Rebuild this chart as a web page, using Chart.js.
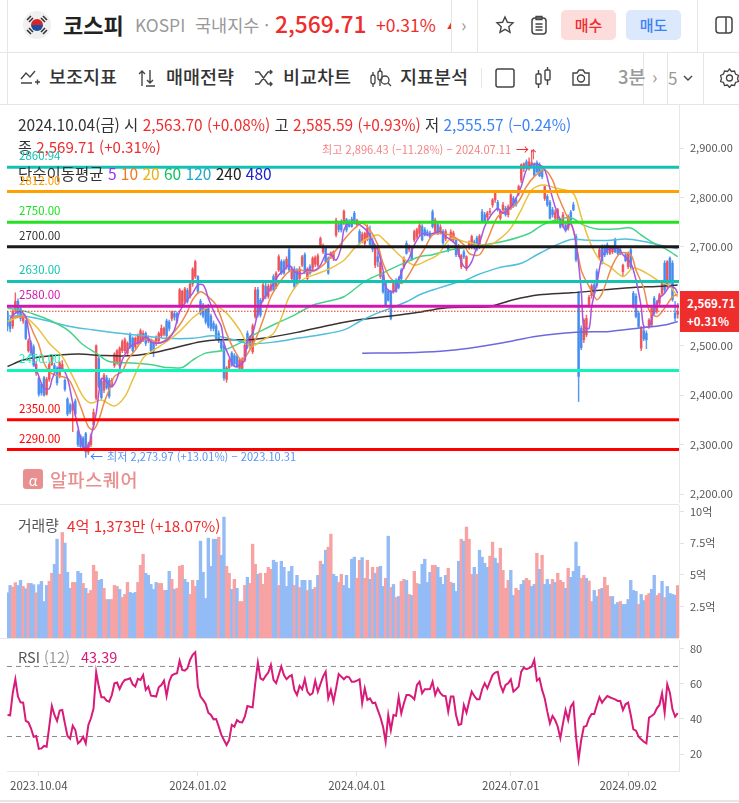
<!DOCTYPE html>
<html lang="ko">
<head>
<meta charset="utf-8">
<title>코스피</title>
<script src="https://cdn.jsdelivr.net/npm/chart.js@4"></script>
<style>
  html, body { margin: 0; padding: 0; background: #fff; }
  body { width: 739px; height: 803px; position: relative; overflow: hidden; font-family: "Noto Sans CJK KR", "Noto Sans", sans-serif; color: #333; }
  canvas { position: absolute; left: 0; display: block; }
  .t { position: absolute; white-space: nowrap; line-height: 1; }
  .line { position: absolute; background: #e6e6e6; }
  .red { color: #ee2d2d; } .blue { color: #3b82f6; } .gray { color: #999; }
  .tool { font-size: 18.5px; font-weight: 500; color: #333; top: 67px; }
  .btn { position: absolute; top: 10px; height: 30px; width: 55px; border-radius: 5px; font-size: 15px; font-weight: 500; text-align: center; line-height: 29px; }
  svg { position: absolute; }
  .level { position: absolute; left: 19px; font-size: 11.5px; line-height: 1; }
</style>
</head>
<body>
<canvas id="priceChart" style="top:105px"></canvas>
<canvas id="volumeChart" style="top:505px"></canvas>
<canvas id="rsiChart" style="top:640px"></canvas>

<!-- top bar -->
<div class="line" style="left:0;top:52px;width:739px;height:1px"></div>
<div class="line" style="left:0;top:104px;width:739px;height:1px"></div>
<div class="line" style="left:7px;top:0;width:1px;height:104px"></div>
<div class="line" style="left:451px;top:0;width:1px;height:52px"></div>
<div class="line" style="left:477px;top:0;width:1px;height:52px"></div>
<div class="line" style="left:697px;top:0;width:1px;height:52px"></div>
<div class="line" style="left:643px;top:53px;width:1px;height:51px"></div>
<div class="line" style="left:667px;top:53px;width:1px;height:51px"></div>
<div class="line" style="left:703px;top:53px;width:1px;height:51px"></div>
<div class="line" style="left:481px;top:68px;width:1px;height:20px"></div>
<div class="line" style="left:0;top:504px;width:679px;height:1px"></div>
<div class="line" style="left:0;top:638px;width:679px;height:1px"></div>
<div class="line" style="left:0;top:800px;width:739px;height:2px"></div>

<svg style="left:23px;top:11px" width="28" height="28" viewBox="0 0 28 28">
  <circle cx="14" cy="14" r="14" fill="#f0f0f0"/>
  <path d="M8 14a6 6 0 0 1 12 0z" fill="#d8232a"/><path d="M8 14a6 6 0 0 0 12 0z" fill="#1a4fa0"/>
  <g stroke="#333" stroke-width="1.6"><path d="M4 9l4-4M6 11l4-4M18 7l4 4M20 5l4 4M4 19l4 4M6 17l4 4M18 21l4-4M20 23l4-4"/></g>
</svg>
<span class="t" style="left:63px;top:13px;font-size:22px;font-weight:700;color:#222">코스피</span>
<span class="t gray" style="left:135px;top:16px;font-size:17.4px">KOSPI</span>
<span class="t gray" style="left:195px;top:16px;font-size:17.5px">국내지수 ·</span>
<span class="t red" style="left:275px;top:13px;font-size:22.8px;font-weight:500">2,569.71</span>
<span class="t red" style="left:376px;top:16px;font-size:17.5px">+0.31%</span>
<span class="t red" style="left:447px;top:20px;font-size:10px;clip-path:inset(0 6px 0 0)">▲</span>
<span class="t gray" style="left:461px;top:15px;font-size:18px">›</span>
<svg style="left:495px;top:15px" width="20" height="20" viewBox="0 0 20 20"><path d="M10 2l2.4 5.3 5.6.6-4.2 3.8 1.2 5.6L10 14.4 5 17.3l1.2-5.6L2 7.9l5.6-.6z" fill="none" stroke="#444" stroke-width="1.4"/></svg>
<svg style="left:530px;top:15px" width="18" height="21" viewBox="0 0 18 21"><rect x="2" y="3" width="14" height="16" rx="3" fill="none" stroke="#444" stroke-width="1.5"/><path d="M6 1.5h6v3H6zM5.5 9h7M5.5 12h7M5.5 15h7" fill="none" stroke="#444" stroke-width="1.3"/></svg>
<div class="btn red" style="left:561px;background:#fddcdc">매수</div>
<div class="btn blue" style="left:626px;background:#dce8fb">매도</div>
<svg style="left:714px;top:15px" width="20" height="20" viewBox="0 0 20 20"><rect x="2" y="2" width="16" height="16" rx="3" fill="none" stroke="#444" stroke-width="1.5"/><path d="M12 2v16" stroke="#444" stroke-width="1.5"/></svg>

<!-- toolbar -->
<svg style="left:20px;top:68px" width="20" height="18" viewBox="0 0 20 18"><path d="M1 11l5-6 4 4 5-6M1 15h11M15 14h5M17.5 11.500v5" fill="none" stroke="#444" stroke-width="1.4"/></svg>
<span class="t tool" style="left:49px">보조지표</span>
<svg style="left:137px;top:68px" width="20" height="20" viewBox="0 0 20 20"><path d="M5 18V3M2 6l3-3 3 3M13 2v13M10 12l3 3 3-3M9 18h9" fill="none" stroke="#444" stroke-width="1.4"/></svg>
<span class="t tool" style="left:166px">매매전략</span>
<svg style="left:254px;top:68px" width="20" height="20" viewBox="0 0 20 20"><path d="M1 4h4l9 12h4M1 16h4l9-12h4M16 2l2 2-2 2M16 14l2 2-2 2" fill="none" stroke="#444" stroke-width="1.4"/></svg>
<span class="t tool" style="left:283px">비교차트</span>
<svg style="left:370px;top:67px" width="22" height="22" viewBox="0 0 22 22"><rect x="1" y="8" width="4" height="9" rx="2" fill="none" stroke="#444" stroke-width="1.3"/><rect x="8" y="4" width="4" height="9" rx="2" fill="none" stroke="#444" stroke-width="1.3"/><circle cx="15" cy="13" r="4" fill="none" stroke="#444" stroke-width="1.3"/><path d="M18 16l3 3M3 5v3M3 17v3M10 1v3M10 13v6" stroke="#444" stroke-width="1.3"/></svg>
<span class="t tool" style="left:400px">지표분석</span>
<svg style="left:495px;top:68px" width="20" height="20" viewBox="0 0 20 20"><rect x="1" y="1" width="18" height="18" rx="2" fill="none" stroke="#444" stroke-width="1.5"/></svg>
<svg style="left:534px;top:66px" width="18" height="24" viewBox="0 0 18 24"><rect x="2" y="8" width="5" height="10" rx="1" fill="none" stroke="#444" stroke-width="1.4"/><rect x="11" y="4" width="5" height="10" rx="1" fill="none" stroke="#444" stroke-width="1.4"/><path d="M4.500 4v4M4.500 18v4M13.500 1v3M13.500 14v5" stroke="#444" stroke-width="1.4"/></svg>
<svg style="left:571px;top:68px" width="20" height="19" viewBox="0 0 20 19"><path d="M2 5h4l2-3h4l2 3h4v12H2z" fill="none" stroke="#444" stroke-width="1.4"/><circle cx="10" cy="10.500" r="3.500" fill="none" stroke="#444" stroke-width="1.4"/></svg>
<span class="t gray" style="left:618px;top:67px;font-size:18.5px;font-weight:500">3분</span>
<span class="t gray" style="left:652px;top:67px;font-size:18px">›</span>
<span class="t gray" style="left:668px;top:69px;font-size:17px">5</span>
<svg style="left:683px;top:75px" width="10" height="7" viewBox="0 0 10 7"><path d="M1 1l4 4 4-4" fill="none" stroke="#444" stroke-width="1.4"/></svg>
<svg style="left:720px;top:68px" width="19" height="20" viewBox="0 0 19 20"><path d="M9.500 1l2 2.500 3-.500 1 3 3 1.500-1 3 1 3-3 1-1 3-3-.500-2 2.500-2-2.500-3 .500-1-3-3-1 1-3-1-3 3-1.500 1-3 3 .500z" fill="none" stroke="#444" stroke-width="1.3"/><circle cx="9.500" cy="10" r="3" fill="none" stroke="#444" stroke-width="1.3"/></svg>

<!-- legend text -->
<span class="t" style="left:18px;top:117px;font-size:15.45px;color:#333">2024.10.04(금) 시 <span class="red">2,563.70 (+0.08%)</span> 고 <span class="red">2,585.59 (+0.93%)</span> 저 <span class="blue">2,555.57 (−0.24%)</span></span>
<span class="t" style="left:18px;top:139px;font-size:15.1px;color:#333">종 <span class="red">2,569.71 (+0.31%)</span></span>
<span class="t" style="left:18px;top:166px;font-size:15.5px;color:#333">단순이동평균 <span style="color:#9333ea">5</span> <span style="color:#f07820">10</span> <span style="color:#e8b010">20</span> <span style="color:#10c060">60</span> <span style="color:#20a8d0">120</span> <span style="color:#222">240</span> <span style="color:#2020d0">480</span></span>
<span class="t" style="left:322px;top:144px;font-size:11.1px;color:#ee2d2d;opacity:.6">최고 2,896.43 (−11.28%) − 2024.07.11</span>
<span class="t" style="left:516px;top:142px;font-size:13px;color:#ee2d2d">→</span>
<span class="t" style="left:528px;top:149px;font-size:11px;color:#ee2d2d">↑</span>
<span class="t" style="left:107px;top:451px;font-size:11.1px;color:#3b82f6;opacity:.85">최저 2,273.97 (+13.01%) − 2023.10.31</span>
<span class="t" style="left:90px;top:449px;font-size:13px;color:#3b82f6">←</span>
<div class="t" style="left:23px;top:469px;width:20px;height:20px;border-radius:3px;background:#e89090;color:#fff;font-size:14px;text-align:center;line-height:22px">α</div>
<span class="t" style="left:50px;top:470px;font-size:18.5px;font-weight:500;letter-spacing:.6px;color:#e88f8f">알파스퀘어</span>

<span class="t" style="left:18px;top:518px;font-size:14.8px;color:#555">거래량</span>
<span class="t red" style="left:67px;top:518px;font-size:15.2px">4억 1,373만 (+18.07%)</span>
<span class="t" style="left:18px;top:650px;font-size:14.5px;color:#555">RSI <span class="gray">(12)</span></span>
<span class="t" style="left:81px;top:650px;font-size:14.5px;color:#d81b78">43.39</span>

<!-- current price tag -->
<div style="position:absolute;left:680px;top:291px;width:59px;height:41px;background:#ee2d2d"></div>
<span class="t" style="left:687px;top:298px;font-size:11.500px;font-weight:700;color:#fff">2,569.71</span>
<span class="t" style="left:687px;top:316px;font-size:11.500px;font-weight:700;color:#fff">+0.31%</span>

<script>
// one candle a day, oldest first: [open, high, low, close]
const CANDLES = [
  [2567,2570,2530,2540],[2550,2555,2528,2535],[2540,2572,2535,2568],[2572,2607,2565,2590],[2590,2595,2560,2565],
  [2575,2580,2550,2555],[2550,2565,2545,2562],[2549,2552,2512,2515],[2490,2514,2487,2510],[2505,2510,2480,2485],
  [2498,2502,2458,2461],[2445,2468,2440,2462],[2434,2436,2398,2402],[2422,2425,2400,2405],[2435,2438,2398,2400],
  [2402,2436,2400,2432],[2432,2466,2428,2462],[2462,2482,2460,2478],[2460,2465,2445,2448],[2452,2458,2420,2425],
  [2440,2468,2435,2465],[2452,2470,2448,2462],[2430,2433,2408,2412],[2392,2395,2358,2362],[2380,2384,2362,2366],
  [2370,2385,2326,2382],[2388,2392,2358,2362],[2326,2330,2296,2300],[2317,2320,2292,2296],[2313,2316,2288,2292],
  [2322,2325,2274,2285],[2285,2305,2280,2300],[2300,2322,2296,2318],[2340,2372,2330,2365],[2394,2502,2390,2500],
  [2474,2478,2415,2418],[2428,2432,2392,2395],[2410,2444,2405,2440],[2435,2440,2412,2415],[2430,2434,2394,2398],
  [2420,2434,2416,2430],[2460,2486,2456,2483],[2465,2492,2462,2490],[2460,2498,2455,2495],[2490,2512,2486,2508],
  [2490,2516,2486,2512],[2485,2508,2482,2505],[2522,2526,2495,2498],[2515,2518,2487,2490],[2498,2518,2494,2515],
  [2505,2524,2502,2520],[2508,2534,2504,2530],[2512,2530,2508,2525],[2525,2528,2500,2505],[2510,2520,2506,2515],
  [2510,2514,2486,2490],[2505,2508,2478,2490],[2505,2520,2500,2515],[2510,2528,2506,2525],[2520,2542,2516,2535],
  [2523,2538,2520,2535],[2550,2554,2516,2520],[2548,2552,2530,2535],[2555,2570,2550,2568],[2565,2570,2552,2558],
  [2565,2568,2545,2550],[2582,2616,2578,2613],[2582,2612,2578,2610],[2590,2618,2586,2615],[2612,2616,2586,2590],
  [2600,2628,2596,2625],[2625,2658,2620,2655],[2640,2673,2636,2670],[2640,2642,2606,2610],[2590,2594,2562,2565],
  [2582,2586,2556,2560],[2578,2582,2544,2548],[2580,2584,2536,2540],[2560,2564,2530,2535],[2545,2550,2530,2535],
  [2540,2544,2512,2515],[2525,2530,2506,2510],[2510,2514,2490,2495],[2500,2504,2430,2435],[2432,2458,2426,2455],
  [2455,2474,2450,2470],[2485,2488,2458,2461],[2480,2484,2460,2464],[2478,2482,2455,2458],[2454,2475,2450,2471],
  [2454,2476,2450,2472],[2471,2505,2468,2501],[2525,2530,2494,2498],[2498,2520,2494,2516],[2488,2544,2484,2540],
  [2559,2618,2555,2613],[2613,2618,2558,2562],[2592,2596,2558,2562],[2593,2628,2590,2623],[2620,2630,2595,2600],
  [2600,2625,2596,2620],[2613,2626,2610,2623],[2640,2644,2610,2613],[2620,2650,2616,2647],[2653,2684,2650,2680],
  [2670,2674,2644,2647],[2670,2674,2644,2647],[2660,2680,2655,2675],[2694,2698,2650,2653],[2636,2660,2632,2655],
  [2655,2660,2616,2620],[2653,2656,2624,2626],[2636,2660,2632,2655],[2663,2683,2660,2680],[2684,2688,2646,2650],
  [2636,2658,2632,2655],[2660,2664,2644,2647],[2657,2680,2654,2677],[2665,2682,2660,2678],[2663,2686,2660,2682],
  [2704,2720,2700,2717],[2690,2706,2686,2700],[2697,2700,2668,2670],[2677,2680,2644,2647],[2680,2690,2676,2688],
  [2677,2692,2672,2690],[2724,2758,2720,2754],[2745,2752,2730,2735],[2751,2755,2730,2734],[2748,2775,2745,2772],
  [2755,2758,2730,2734],[2751,2755,2740,2741],[2756,2760,2740,2741],[2768,2772,2746,2748],[2745,2756,2742,2754],
  [2731,2735,2705,2707],[2712,2730,2708,2725],[2707,2730,2703,2727],[2715,2745,2712,2738],[2727,2742,2700,2705],
  [2712,2718,2690,2695],[2663,2702,2658,2700],[2680,2690,2660,2670],[2640,2672,2636,2668],[2643,2648,2606,2609],
  [2626,2630,2580,2582],[2610,2614,2590,2592],[2609,2612,2552,2555],[2610,2628,2606,2626],[2632,2636,2608,2610],
  [2635,2640,2615,2618],[2653,2656,2632,2635],[2660,2680,2656,2676],[2707,2712,2685,2687],[2695,2704,2690,2700],
  [2694,2698,2672,2674],[2714,2734,2710,2731],[2720,2738,2716,2735],[2727,2748,2722,2744],[2741,2745,2712,2714],
  [2735,2739,2722,2724],[2730,2734,2722,2725],[2728,2732,2718,2720],[2771,2775,2738,2741],[2731,2758,2728,2754],
  [2745,2750,2725,2728],[2730,2745,2726,2740],[2731,2735,2705,2708],[2716,2735,2712,2731],[2700,2704,2690,2693],
  [2715,2735,2712,2730],[2714,2732,2710,2728],[2714,2718,2680,2684],[2685,2705,2680,2700],[2660,2685,2656,2682],
  [2690,2694,2676,2680],[2656,2682,2652,2680],[2700,2712,2695,2708],[2700,2724,2696,2721],[2710,2714,2695,2698],
  [2718,2722,2692,2695],[2700,2725,2696,2722],[2771,2776,2749,2751],[2765,2770,2749,2751],[2760,2772,2755,2768],
  [2770,2778,2765,2771],[2785,2798,2780,2795],[2795,2812,2790,2808],[2790,2794,2772,2775],[2758,2775,2754,2772],
  [2775,2790,2770,2785],[2778,2782,2762,2765],[2765,2785,2760,2781],[2778,2808,2775,2805],[2798,2802,2780,2783],
  [2795,2799,2782,2785],[2808,2825,2804,2822],[2835,2868,2830,2866],[2858,2870,2852,2868],[2872,2876,2858,2862],
  [2858,2880,2855,2872],[2866,2896,2860,2870],[2866,2870,2842,2845],[2870,2874,2850,2852],[2866,2870,2842,2844],
  [2855,2862,2838,2842],[2798,2825,2794,2822],[2802,2806,2782,2785],[2790,2794,2756,2758],[2775,2780,2760,2765],
  [2758,2775,2752,2770],[2755,2778,2750,2775],[2755,2758,2738,2740],[2745,2770,2740,2765],[2744,2748,2730,2734],
  [2738,2765,2734,2761],[2770,2774,2750,2755],[2785,2790,2773,2775],[2721,2726,2670,2674],[2606,2610,2387,2438],
  [2535,2540,2492,2496],[2512,2555,2506,2552],[2522,2562,2518,2555],[2583,2602,2578,2598],[2601,2625,2596,2621],
  [2623,2627,2604,2606],[2650,2655,2618,2622],[2680,2698,2676,2694],[2700,2704,2665,2668],[2700,2704,2680,2684],
  [2704,2708,2684,2688],[2687,2702,2684,2700],[2690,2702,2686,2700],[2714,2718,2688,2690],[2697,2700,2684,2687],
  [2694,2698,2684,2686],[2650,2665,2640,2663],[2684,2688,2670,2672],[2660,2690,2656,2687],[2694,2698,2656,2659],
  [2606,2610,2576,2579],[2600,2605,2556,2559],[2566,2570,2536,2539],[2495,2539,2490,2536],[2530,2540,2510,2514],
  [2525,2530,2494,2512],[2540,2555,2535,2552],[2542,2580,2538,2576],[2596,2600,2562,2566],[2570,2592,2566,2588],
  [2586,2606,2582,2603],[2606,2630,2602,2626],[2667,2672,2608,2613],[2620,2672,2616,2670],[2677,2680,2625,2630],
  [2667,2672,2590,2593],[2566,2590,2550,2556],[2563.7,2585.59,2555.57,2569.71]
];

// moving averages: [bar index, price]
const MA5 = [[1,2556],[3,2566],[5,2569],[7,2559],[8,2532],[10,2471],[12,2438],[14,2414],[16,2413],[17,2431],[19,2454],[21,2454],[23,2434],[25,2384],[27,2336],[29,2296],[31,2296],[32,2316],[34,2363],[35,2404],[36,2434],[38,2427],[40,2417],[42,2434],[44,2471],[46,2491],[48,2502],[51,2508],[53,2518],[55,2508],[57,2505],[60,2508],[62,2515],[64,2532],[66,2569],[69,2593],[71,2606],[73,2623],[75,2623],[76,2613],[77,2596],[80,2559],[82,2539],[83,2505],[85,2478],[87,2458],[89,2461],[91,2471],[92,2511],[94,2525],[96,2566],[98,2593],[100,2609],[102,2626],[104,2643],[106,2653],[108,2663],[110,2650],[113,2646],[115,2653],[118,2653],[120,2663],[122,2684],[124,2684],[126,2673],[128,2700],[129,2734],[131,2748],[134,2748],[136,2741],[138,2731],[140,2711],[142,2694],[144,2653],[145,2620],[147,2609],[149,2613],[150,2633],[152,2660],[154,2677],[156,2704],[159,2727],[161,2724],[163,2727],[166,2731],[168,2721],[170,2714],[172,2704],[174,2670],[176,2657],[178,2670],[180,2700],[181,2708],[183,2741],[185,2761],[188,2778],[190,2768],[193,2781],[195,2798],[197,2822],[199,2856],[201,2866],[204,2866],[206,2856],[208,2818],[210,2781],[212,2754],[214,2734],[216,2748],[218,2707],[220,2613],[221,2539],[223,2535],[224,2579],[226,2626],[228,2680],[230,2694],[234,2697],[236,2684],[239,2667],[241,2633],[243,2579],[244,2539],[246,2539],[248,2572],[250,2596],[252,2606],[254,2620],[256,2616],[257,2606]];
const MA10 = [[1,2556],[6,2559],[8,2549],[10,2525],[12,2502],[14,2465],[16,2448],[18,2441],[23,2434],[25,2417],[28,2377],[31,2336],[33,2330],[35,2350],[37,2384],[39,2411],[41,2438],[44,2448],[46,2471],[49,2491],[52,2512],[55,2512],[58,2505],[62,2518],[66,2542],[69,2569],[71,2593],[74,2609],[77,2599],[80,2582],[84,2525],[87,2491],[90,2471],[95,2512],[98,2552],[101,2599],[105,2633],[108,2650],[112,2653],[117,2650],[121,2663],[125,2687],[129,2714],[133,2737],[136,2748],[139,2734],[142,2704],[144,2667],[147,2636],[151,2626],[153,2636],[156,2663],[160,2697],[163,2724],[167,2727],[171,2721],[175,2704],[177,2687],[181,2684],[184,2714],[188,2761],[193,2778],[196,2792],[199,2822],[202,2842],[206,2856],[209,2835],[211,2805],[214,2768],[217,2734],[220,2653],[223,2620],[226,2593],[228,2606],[232,2663],[235,2687],[239,2684],[241,2653],[244,2616],[246,2572],[249,2559],[252,2576],[255,2599],[257,2604]];
const MA20 = [[0,2549],[6,2559],[11,2539],[16,2505],[21,2478],[25,2438],[29,2397],[32,2384],[36,2390],[41,2378],[45,2397],[48,2431],[52,2475],[56,2491],[61,2508],[66,2529],[71,2556],[75,2572],[79,2582],[84,2566],[89,2532],[93,2498],[98,2512],[102,2525],[105,2556],[108,2599],[113,2633],[119,2646],[124,2657],[129,2673],[133,2697],[137,2714],[142,2724],[145,2711],[151,2680],[156,2663],[161,2673],[165,2684],[170,2717],[175,2711],[181,2704],[185,2704],[189,2717],[193,2738],[197,2775],[201,2815],[205,2825],[211,2818],[217,2808],[220,2761],[223,2714],[227,2674],[231,2660],[236,2640],[240,2657],[245,2647],[250,2630],[254,2620],[257,2599]];
const MA60 = [[0,2576],[5,2572],[10,2564],[16,2552],[23,2532],[29,2502],[34,2485],[39,2468],[48,2465],[56,2461],[61,2456],[67,2456],[71,2471],[76,2485],[83,2491],[90,2508],[93,2518],[98,2532],[103,2545],[110,2562],[117,2582],[122,2589],[129,2599],[137,2630],[145,2650],[152,2667],[158,2680],[163,2684],[170,2694],[177,2700],[190,2711],[200,2727],[205,2744],[210,2754],[216,2759],[221,2744],[226,2736],[233,2736],[239,2738],[243,2724],[248,2707],[253,2694],[257,2680]];
const MA120 = [[0,2560],[6,2560],[14,2552],[24,2539],[33,2532],[43,2525],[52,2520],[61,2515],[71,2515],[79,2520],[87,2512],[93,2504],[103,2508],[111,2515],[120,2522],[129,2532],[135,2549],[140,2562],[147,2576],[153,2589],[158,2603],[165,2616],[171,2626],[176,2633],[180,2643],[188,2657],[197,2667],[203,2684],[209,2700],[216,2715],[221,2714],[230,2713],[237,2716],[244,2711],[250,2704],[257,2696]];
const MA240 = [[0,2458],[6,2471],[14,2478],[27,2483],[37,2480],[48,2480],[57,2487],[65,2497],[74,2508],[81,2512],[93,2512],[98,2515],[111,2527],[124,2542],[134,2552],[147,2560],[157,2567],[167,2576],[181,2578],[185,2579],[194,2593],[204,2603],[216,2607],[229,2613],[240,2618],[249,2620],[257,2623]];
const MA480 = [[136,2485],[153,2486],[166,2489],[177,2495],[190,2506],[203,2519],[218,2527],[231,2529],[241,2535],[252,2542],[257,2549]];

// horizontal support / resistance levels
const LEVELS = [2860.94, 2812, 2750, 2700, 2630, 2580, 2450, 2350, 2290];
const LEVEL_LABELS = ['2860.94', '2812.00', '2750.00', '2700.00', '2630.00', '2580.00', '2450.00', '2350.00', '2290.00'];
const LEVEL_COLORS = ['#13c2b3', '#ffa000', '#22e022', '#1a1a1a', '#13c2b3', '#d018b0', '#0ff5b8', '#ff0000', '#ff0000'];
const LAST_PRICE = 2569.71;

// volume in 억 shares, with r = up day, b = down day
const VOLUME = [
  3.57,4.15,4.02,4.37,4.15,4.55,4.07,3.89,4.31,4.31, 4.21,3.57,4.21,4.47,2.88,4.15,4.47,5.11,5.82,7.80,
  5.03,8.33,7.49,5.19,3.92,4.39,4.39,5.26,5.11,4.31, 3.92,3.52,3.76,5.74,5.26,4.55,4.63,3.92,3.04,3.04,
  3.04,4.15,4.07,3.84,3.20,3.44,4.39,3.60,3.52,3.60, 4.39,5.74,6.61,5.11,4.95,4.23,3.84,4.39,4.31,4.31,
  3.76,3.76,5.26,4.63,3.84,3.92,5.66,5.74,4.63,4.39, 3.44,4.55,4.07,4.55,7.65,5.19,3.12,7.88,5.66,7.80,
  7.80,7.96,6.53,9.55,5.66,5.11,3.84,4.63,3.92,2.88, 2.88,4.15,4.79,4.31,7.41,5.82,5.03,5.11,4.23,5.11,
  5.58,5.42,6.14,5.98,4.15,6.06,5.58,4.07,5.26,5.66, 4.15,4.95,3.99,4.55,4.55,3.76,4.55,3.84,3.99,4.95,
  6.06,5.82,6.93,7.17,8.20,5.03,4.87,4.39,5.03,4.15, 4.95,3.92,6.22,6.38,4.71,6.14,6.35,4.71,6.14,4.63,
  5.58,5.11,5.58,5.66,4.07,4.71,8.04,3.99,4.23,3.20, 3.28,4.47,4.63,4.55,3.44,3.36,5.26,4.31,4.23,5.82,
  6.22,4.39,5.19,5.74,5.74,5.58,4.79,4.23,4.95,5.50, 4.39,4.31,3.68,6.06,7.80,7.65,8.76,7.80,5.03,5.58,
  5.03,6.93,6.38,5.90,5.58,6.46,7.57,6.30,5.90,7.09, 5.34,3.92,4.55,5.34,3.36,3.92,3.76,4.23,4.55,4.71,
  4.55,4.07,4.23,6.69,5.42,6.53,4.23,4.63,4.23,4.63, 4.39,5.11,4.55,4.40,3.92,5.50,4.79,5.26,7.57,5.66,
  4.71,4.95,4.71,4.50,2.88,3.76,3.28,3.84,3.92,4.79, 4.15,3.28,3.28,2.65,2.80,2.88,2.65,2.65,3.04,4.55,
  3.76,3.68,2.65,3.44,2.96,3.36,3.52,3.84,4.95,3.36, 3.52,4.47,3.20,4.07,3.52,3.44,3.38,4.14
];
const VOLUME_DIR = (
  'bbrrbbrbrb' + 'brbbbbrrbb' + 'rrbbbrrbbr' + 'brrrrbbrrb' + 'rrrbrrrbbb' + 'rrrbbbbbrr' +
  'rbbrbrrrbb' + 'rrrbbbbbbb' + 'brbbrrbrbr' + 'rrbrrrbrrr' + 'rrbbrbbbbb' + 'rbrbbrbbrb' +
  'rbbrrbbrrb' + 'bbbbrrbrrb' + 'rbrbbrbrbr' + 'brrbrbrrbb' + 'bbbrrbbbbr' + 'rbbbrbrrrb' +
  'rbbbbrrbbr' + 'rrrbbrrbbr' + 'rbbrbrbbbr' + 'brrrbrbbbb' + 'rrbrrbbrbr' + 'rrbbbrbbbb' +
  'bbrbbrrbbr' + 'rbrbbbbr'
).split('');

// RSI(12)
const RSI = [
  42.3,42.1,54.7,62.7,52.8,49.5,49.3,38.9,38.1,34.7, 29.9,30.3,22.9,23.2,24.6,24.2,35.6,47.4,42.3,38.9,
  44.8,45.1,37.5,30.3,28.8,36.2,33.7,26.1,27.4,29.9, 26.1,36.6,40.4,46.1,66.7,58.5,52.4,52.4,50.5,49.9,
  53.7,60.4,60.8,57.1,60.4,62.3,62.7,63.2,59.8,58.5, 62.9,62.3,65.1,56.6,58.5,53.3,53.1,52.8,58.1,59.4,
  61.9,53.1,61.3,64.8,65.7,66.1,73.3,68,67.6,69, 73.7,76.6,78.1,58.5,52.8,50.9,48.6,43.6,42.3,39.8,
  40,35.6,30.9,28,25.1,28,36.6,35.6,39.4,38.3, 38.1,41.3,47.4,47,46.7,60.4,72.2,63.2,62.3,64.6,
  66.5,70.9,62.3,60.4,65.1,70,65.1,62.7,64.2,65.1, 56.6,53.7,58.9,57,62.7,55.6,53.7,54.7,61.9,55.6,
  60,64.2,67,51.8,56.6,49.9,57.5,65.7,64.2,62.7, 64.2,63.8,61.3,61.3,61.9,62.7,49,57.5,50.9,51.8,
  49,49.3,45.1,41,35.6,27,42.3,33.7,42.3,41.9, 52.4,43.2,49,53.7,53.7,52.8,51.2,59.4,61.3,54.7,
  57,57,57.1,61.3,53.7,57.5,54.7,53.3,53.1,44.2, 52.8,52.8,42.3,36.6,37.1,48,43.6,49.9,55.6,53.1,
  51.2,51.2,57,60.4,57.5,61.3,65.1,66.5,67,59.4, 55.6,59.4,60.4,62.7,55.6,57,58.5,67,69.3,68.4,
  69,69.9,73.7,61.9,63.2,56.6,51.8,44.2,37.5,41.7, 39.4,35.6,29,37.5,45.1,39.4,47,49.3,29.9,17,
  28,35.6,36,40.4,42.9,42.9,48,52.4,49.3,51.4, 53.1,52.4,51.8,51.2,50.3,50.3,45.1,48.4,49.3,42.3,
  34.1,33.3,29.9,28.4,27,26.1,40.8,41.7,42.9,46.1, 48,54.7,43.6,59.8,55,45.5,41.3,43.39
];
const RSI_GUIDES = [70, 30];

// axis ticks
const PRICE_TICKS = [2200, 2300, 2400, 2500, 2600, 2700, 2800, 2900];
const VOLUME_TICKS = [2.5, 5, 7.5, 10];
const VOLUME_TICK_LABELS = ['2.5억', '5억', '7.5억', '10억'];
const RSI_TICKS = [20, 40, 60, 80];
const DATE_TICKS = [12, 73, 134, 193, 238];
const DATE_LABELS = ['2023.10.04', '2024.01.02', '2024.04.01', '2024.07.01', '2024.09.02'];

const X_MIN = -0.2, X_MAX = 257.5;
const UP = 'rgba(238,80,85,0.88)', DOWN = 'rgba(66,138,240,0.88)';
const FONT = '"Noto Sans CJK KR", "Noto Sans", sans-serif';

function points(pairs) {
  return pairs.map(([x, y]) => ({ x, y }));
}

function maLine(pairs, color, order) {
  return { type: 'line', data: points(pairs), borderColor: color, borderWidth: 1.5, pointRadius: 0, tension: 0.3, order };
}

function flatLine(value, color, width, dash, order) {
  return { type: 'line', data: [{ x: X_MIN, y: value }, { x: X_MAX, y: value }], borderColor: color, borderWidth: width, borderDash: dash, pointRadius: 0, order };
}

// the panes must share one plot width, so drop the padding Chart.js reserves for tick labels
function noPadding(s) {
  s.paddingLeft = s.paddingRight = s.paddingTop = s.paddingBottom = 0;
}

function xAxis(show) {
  return {
    type: 'linear', min: X_MIN, max: X_MAX, display: show, offset: false,
    grid: { drawOnChartArea: false, offset: false, tickLength: 5, color: '#e2e2e2' },
    border: { color: '#e8e8e8' },
    afterBuildTicks: s => { s.ticks = DATE_TICKS.map(value => ({ value })); },
    afterFit: s => { s.height = show ? 29 : 0; noPadding(s); },
    ticks: { autoSkip: false, maxRotation: 0, padding: 3, color: '#555', font: { family: FONT, size: 11.5 },
      callback: v => DATE_LABELS[DATE_TICKS.indexOf(v)] }
  };
}

function yAxis(min, max, ticks, label) {
  return {
    position: 'right', min, max,
    grid: { drawOnChartArea: false, tickLength: 5, color: '#e2e2e2' },
    border: { color: '#e8e8e8' },
    afterBuildTicks: s => { s.ticks = ticks.map(value => ({ value })); },
    afterFit: s => { s.width = 60; noPadding(s); },
    ticks: { padding: 6, color: '#555', font: { family: FONT, size: 11 }, callback: label }
  };
}

function paneOptions(yScale, showX) {
  return {
    responsive: false, animation: false,
    layout: { padding: { left: 7, right: 0, top: 0, bottom: 0 } },
    plugins: { legend: { display: false }, tooltip: { enabled: false } },
    scales: { x: xAxis(showX), y: yScale }
  };
}

function sizeCanvas(id, h) {
  const c = document.getElementById(id);
  c.width = 739; c.height = h;
  c.style.width = '739px'; c.style.height = h + 'px';
  return c;
}

// price pane
const wicks = CANDLES.map(([o, h, l, c], x) => ({ x, y: [l, h] }));
const bodies = CANDLES.map(([o, h, l, c], x) => ({ x, y: [o, c] }));
const candleColors = CANDLES.map(([o, h, l, c]) => (c >= o ? UP : DOWN));

const priceChart = new Chart(sizeCanvas('priceChart', 398), {
  type: 'bar',
  data: {
    datasets: [
      ...LEVELS.map((v, i) => flatLine(v, LEVEL_COLORS[i], 3, [], 0)),
      flatLine(LAST_PRICE, '#ee3333', 1, [1.5, 1.5], 1),
      maLine(MA5, '#a855e0', 2),
      maLine(MA10, '#ee8a4a', 3),
      maLine(MA20, '#eac040', 4),
      maLine(MA60, '#45d38a', 5),
      maLine(MA120, '#50bedd', 6),
      maLine(MA240, '#3a3230', 7),
      maLine(MA480, '#6a6adf', 8),
      { data: bodies, backgroundColor: candleColors, barThickness: 1.9, grouped: false, minBarLength: 1, order: 9 },
      { data: wicks, backgroundColor: candleColors, barThickness: 0.8, grouped: false, order: 10 }
    ]
  },
  options: paneOptions(yAxis(2181.8, 2987, PRICE_TICKS, v => v.toLocaleString('en-US', { minimumFractionDigits: 2 })), false)
});

// level captions sit just above their lines
LEVELS.forEach((v, i) => {
  const el = document.createElement('span');
  el.className = 'level';
  el.textContent = LEVEL_LABELS[i];
  el.style.color = LEVEL_COLORS[i] === '#1a1a1a' ? '#333' : LEVEL_COLORS[i];
  el.style.top = (105 + priceChart.scales.y.getPixelForValue(v) - 17) + 'px';
  document.body.appendChild(el);
});

// volume pane
new Chart(sizeCanvas('volumeChart', 133), {
  type: 'bar',
  data: {
    datasets: [{
      data: VOLUME.map((y, x) => ({ x, y })),
      backgroundColor: VOLUME_DIR.map(d => (d === 'r' ? '#f7a3a3' : '#93bbf5')),
      barThickness: 2.7, grouped: false
    }]
  },
  options: paneOptions(yAxis(0, 10.5, VOLUME_TICKS, v => VOLUME_TICK_LABELS[VOLUME_TICKS.indexOf(v)]), false)
});

// RSI pane
new Chart(sizeCanvas('rsiChart', 160), {
  type: 'line',
  data: {
    datasets: [
      { data: RSI.map((y, x) => ({ x, y })), borderColor: '#d81b78', borderWidth: 2, pointRadius: 0, order: 0 },
      ...RSI_GUIDES.map(v => flatLine(v, '#8a8a8a', 1, [5, 4], 1))
    ]
  },
  options: paneOptions(yAxis(10.3, 85.1, RSI_TICKS, v => String(v)), true)
});
</script>
</body>
</html>
